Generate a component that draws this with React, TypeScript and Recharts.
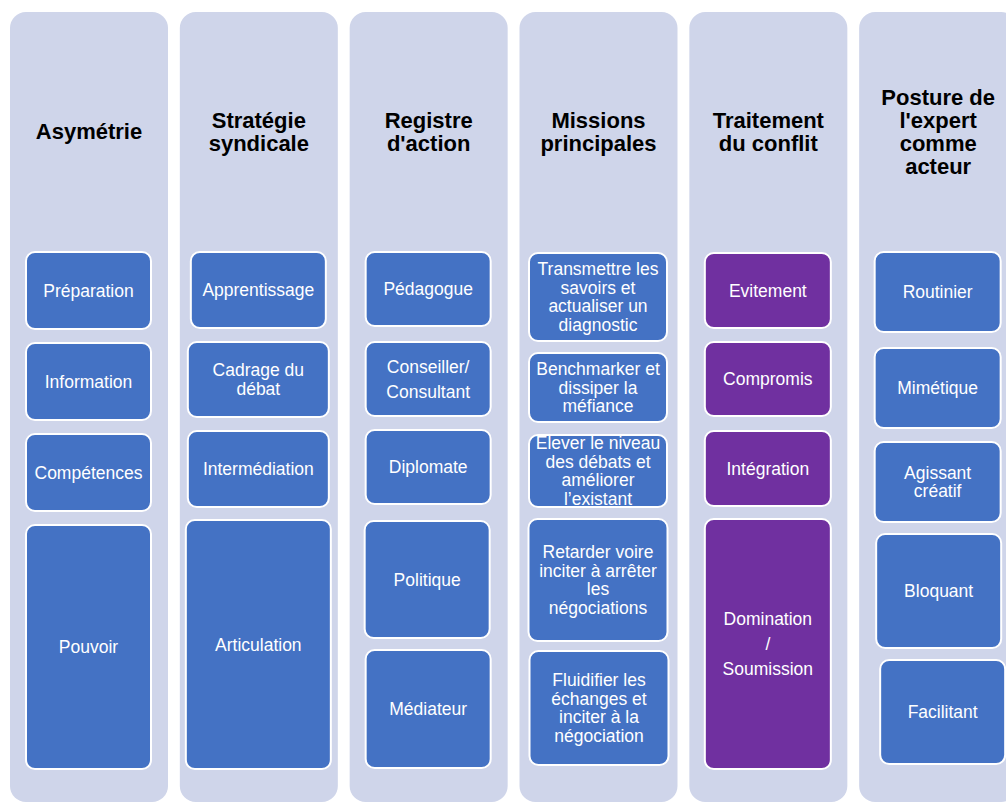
import React from 'react';
import { BarChart, Bar, XAxis, YAxis, LabelList } from 'recharts';

// column headers (x categories)
const headers = [
  'Asymétrie',
  'Stratégie\nsyndicale',
  "Registre\nd'action",
  'Missions\nprincipales',
  'Traitement\ndu conflit',
  "Posture de\nl'expert\ncomme\nacteur",
];

// box texts, one list per column
const boxLabels = [
  ['Préparation', 'Information', 'Compétences', 'Pouvoir'],
  ['Apprentissage', 'Cadrage du\ndébat', 'Intermédiation', 'Articulation'],
  ['Pédagogue', 'Conseiller/\nConsultant', 'Diplomate', 'Politique', 'Médiateur'],
  [
    'Transmettre les\nsavoirs et\nactualiser un\ndiagnostic',
    'Benchmarker et\ndissiper la\nméfiance',
    'Elever le niveau\ndes débats et\naméliorer\nl’existant',
    'Retarder voire\ninciter à arrêter\nles\nnégociations',
    'Fluidifier les\néchanges et\ninciter à la\nnégociation',
  ],
  ['Evitement', 'Compromis', 'Intégration', 'Domination\n/\nSoumission'],
  ['Routinier', 'Mimétique', 'Agissant\ncréatif', 'Bloquant', 'Facilitant'],
];

// vertical extent of each box (top / bottom, downward units)
const boxTops = [
  [251, 342, 433, 524],
  [251, 341, 430, 519],
  [251, 341, 429, 520, 649],
  [252, 352, 434, 518, 650],
  [252, 341, 430, 518],
  [251, 347, 441, 533, 659],
];
const boxBottoms = [
  [330, 421, 512, 770],
  [329, 418, 508, 770],
  [327, 417, 505, 639, 769],
  [342, 423, 508, 642, 766],
  [329, 417, 507, 770],
  [333, 429, 523, 649, 765],
];

// background panel extent, same for every column
const panelTop = 12;
const panelBottom = 802;

// styles
const PANEL_COLOR = '#CFD5EA';
const columnColors = ['#4472C4', '#4472C4', '#4472C4', '#4472C4', '#7030A0', '#4472C4'];
const boxWidths = [
  [127, 127, 127, 127],
  [137, 143, 143, 147],
  [127, 127, 127, 127, 127],
  [140, 140, 140, 141, 141],
  [128, 128, 128, 128],
  [128, 128, 128, 127, 127],
];
const boxShiftX = [
  [0, 0, 0, 0],
  [0, 0, 0, 0],
  [0, 0, 0, -1, 0],
  [0, 0, 0, 0, 1],
  [0, 0, 0, 0],
  [0, 0, 0, 1, 5],
];
const wideSpacing = ['Conseiller/\nConsultant', 'Domination\n/\nSoumission'];
const FONT = '"Liberation Sans", Arial, sans-serif';
const MAX_BOXES = 5;

const rows = headers.map((name, c) => {
  const row: Record<string, any> = { name, panel: [panelTop, panelBottom] };
  let prev = 0;
  for (let i = 0; i < MAX_BOXES; i++) {
    const top = boxTops[c][i];
    const bottom = boxBottoms[c][i];
    if (top === undefined) {
      row[`gap${i}`] = 0;
      row[`box${i}`] = 0;
      continue;
    }
    row[`gap${i}`] = top - prev;
    row[`box${i}`] = bottom - top;
    prev = bottom;
  }
  return row;
});

const BoxShape = (props: any) => {
  const { x, y, width, height, index, slot } = props;
  const label = boxLabels[index]?.[slot];
  if (!label || !height) return null;
  const top = Math.min(y, y + height);
  const h = Math.abs(height);
  const cx = x + width / 2 + boxShiftX[index][slot];
  const w = boxWidths[index][slot];
  const lines = label.split('\n');
  const lh = wideSpacing.includes(label) ? 25 : 18.5;
  const cy = top + h / 2;
  return (
    <g>
      <rect
        x={cx - w / 2 + 1}
        y={top + 1}
        width={w - 2}
        height={h - 2}
        rx={9}
        fill={columnColors[index]}
        stroke="#ffffff"
        strokeWidth={2}
      />
      {lines.map((ln: string, k: number) => (
        <text
          key={k}
          x={cx}
          y={cy + (k - (lines.length - 1) / 2) * lh}
          textAnchor="middle"
          dominantBaseline="central"
          fill="#ffffff"
          fontSize={17.5}
          fontFamily={FONT}
        >
          {ln}
        </text>
      ))}
    </g>
  );
};

const HeaderLabel = (props: any) => {
  const { x, y, width, height, value } = props;
  const top = Math.min(y, y + height);
  const lines = String(value).split('\n');
  const cx = x + width / 2;
  const cy = top + 119.5;
  return (
    <g>
      {lines.map((ln, k) => (
        <text
          key={k}
          x={cx}
          y={cy + (k - (lines.length - 1) / 2) * 23}
          textAnchor="middle"
          dominantBaseline="central"
          fill="#000000"
          fontSize={22}
          fontWeight="bold"
          fontFamily={FONT}
        >
          {ln}
        </text>
      ))}
    </g>
  );
};

const App: React.FC = () => {
  const series: React.ReactNode[] = [];
  for (let i = 0; i < MAX_BOXES; i++) {
    series.push(
      <Bar
        key={`gap${i}`}
        dataKey={`gap${i}`}
        stackId="col"
        xAxisId="boxes"
        fill="none"
        barSize={127}
        isAnimationActive={false}
      />,
    );
    series.push(
      <Bar
        key={`box${i}`}
        dataKey={`box${i}`}
        stackId="col"
        xAxisId="boxes"
        barSize={127}
        isAnimationActive={false}
        shape={(p: any) => <BoxShape {...p} slot={i} />}
      />,
    );
  }

  return (
    <div
      style={{
        position: 'absolute',
        left: 0,
        top: 0,
        width: 1006,
        height: 803,
        overflow: 'hidden',
        background: '#ffffff',
      }}
    >
      <BarChart
        width={1023}
        height={803}
        data={rows}
        margin={{ top: 0, right: 0, bottom: 0, left: 4 }}
        barCategoryGap={0}
      >
        <XAxis xAxisId="panels" dataKey="name" hide />
        <XAxis xAxisId="boxes" dataKey="name" hide />
        <YAxis type="number" domain={[0, 803]} reversed hide allowDataOverflow />
        <Bar
          dataKey="panel"
          xAxisId="panels"
          barSize={158}
          fill={PANEL_COLOR}
          radius={16}
          isAnimationActive={false}
        >
          <LabelList dataKey="name" content={HeaderLabel} />
        </Bar>
        {series}
      </BarChart>
    </div>
  );
};

export default App;
